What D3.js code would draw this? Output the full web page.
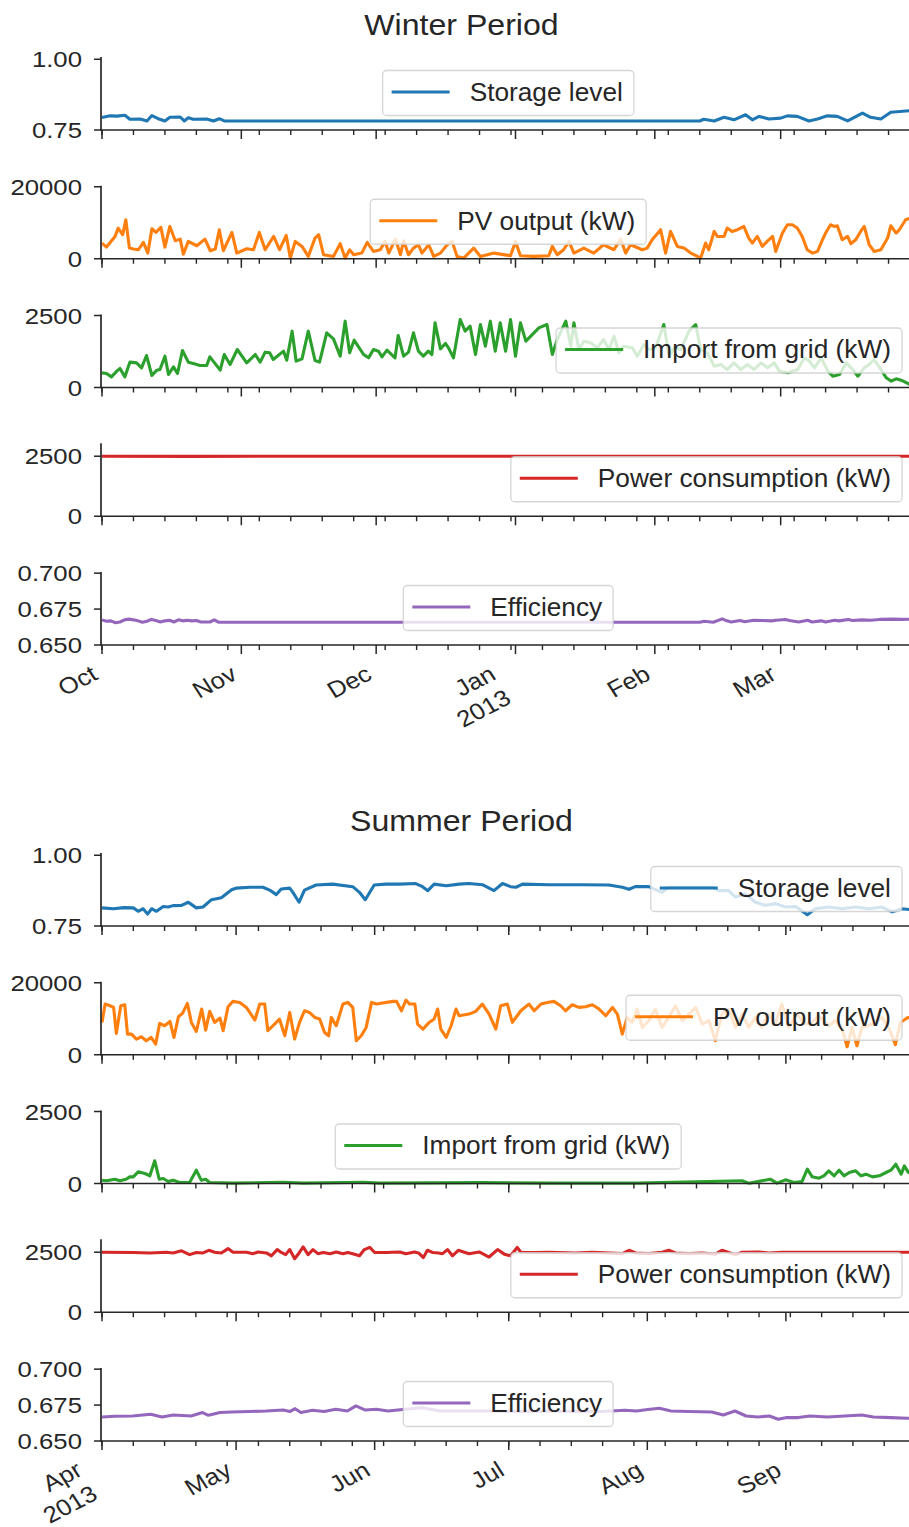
<!DOCTYPE html>
<html>
<head>
<meta charset="utf-8">
<script src="https://cdn.jsdelivr.net/npm/d3@7"></script>
<style>
  body { margin: 0; background: #fff; }
  svg { display: block; }
  text { font-family: "Liberation Sans", Arial, sans-serif; fill: #262626; }
</style>
</head>
<body>
<div id="chart"></div>
<script>
// ---------- data (day offset from period start, value) ----------
const seriesNames = ["Storage level", "PV output (kW)", "Import from grid (kW)", "Power consumption (kW)", "Efficiency"];
const seriesColors = ["#1f77b4", "#ff7f0e", "#2ca02c", "#d62728", "#9467bd"];
const yTickValues = [[0.75, 1.0], [0, 20000], [0, 2500], [0, 2500], [0.65, 0.675, 0.7]];
const yTickFormats = [".2f", "d", "d", "d", ".3f"];
const yLimits = [[0.75, 1.008], [0, 20280], [0, 2535], [0, 3040], [0.65, 0.7008]];
const winterTickLabels = ["Oct", "Nov", "Dec", "Jan\n2013", "Feb", "Mar"];
const summerTickLabels = ["Apr\n2013", "May", "Jun", "Jul", "Aug", "Sep"];

const winterStorage = [[0,0.794],[1.8,0.800],[3.3,0.799],[5.1,0.802],[6.2,0.788],[8.5,0.789],[10,0.782],[11.1,0.801],[12.5,0.790],[14,0.782],[15.1,0.795],[17.4,0.796],[18.3,0.782],[19.2,0.793],[20.3,0.788],[23.3,0.789],[24.8,0.782],[26.1,0.790],[27.2,0.782],[60,0.782],[100,0.782],[133,0.782],[133.9,0.788],[136.2,0.782],[138.4,0.795],[140.6,0.786],[143.2,0.804],[144.7,0.786],[146.2,0.798],[148.4,0.789],[151,0.792],[152.5,0.800],[154.7,0.798],[157.3,0.782],[159.2,0.789],[161.4,0.800],[163.6,0.798],[165.9,0.782],[169.2,0.810],[171,0.795],[173.3,0.789],[175.5,0.813],[179.7,0.818],[181,0.818]];

const winterPV = [[0,4350],[1,3240],[2.9,6200],[3.6,8520],[4.6,6670],[5.3,10830],[6.1,2960],[7,2690],[8.1,2500],[9.2,4540],[10.2,1570],[11.1,8330],[12,7310],[13.1,8700],[14,3240],[15.1,8980],[16.3,5000],[17.4,5460],[18.1,1300],[19.2,4820],[21.1,3610],[22.9,5460],[24.1,2220],[25.2,2690],[26.1,8060],[27,2220],[28.9,7310],[30,1570],[32.2,2780],[33.7,2500],[35,7310],[36.3,2500],[38.2,6200],[39.5,2500],[41,6480],[41.9,190],[43,4820],[44.5,3430],[45.9,650],[47.4,5740],[48.2,6670],[49.3,1110],[51.5,650],[53,4170],[54.1,190],[55.1,2500],[56,1110],[57.8,1570],[59,4540],[60.4,2040],[61.9,2500],[63,4820],[63.8,1570],[65.3,5460],[66.4,1110],[67.1,5000],[68.2,1110],[69.3,2960],[70.4,3890],[71.2,1570],[72.7,3890],[73.8,650],[75.3,1570],[76.8,3890],[77.9,4820],[79,650],[80.5,190],[82.7,2960],[84.2,650],[87.2,1570],[90.9,830],[92,4820],[93.1,830],[96.1,650],[99.4,830],[100.2,3430],[101.3,1110],[102.7,2500],[103.9,4820],[105,1570],[107.2,2960],[109.4,1570],[111.6,3890],[113.9,2500],[115.4,5460],[116.5,1570],[117.6,3890],[120.2,2500],[121.3,2960],[122.4,5280],[124.3,8060],[125.4,1570],[126.5,7590],[128,3430],[129.5,2960],[131,1570],[132.5,650],[133.2,190],[134.3,4350],[135,2500],[136.2,7590],[136.9,6200],[138.4,6200],[139.1,8520],[140.2,7590],[141.4,8060],[142.8,8980],[143.9,5740],[144.7,4350],[145.8,6200],[146.9,3430],[148,4820],[149.2,6200],[149.9,2040],[151.4,7130],[152.5,9450],[153.6,9450],[154.7,8520],[155.8,6200],[156.9,2500],[158.1,1570],[159.2,2040],[160.3,5280],[161,7130],[162.1,9450],[162.9,8980],[163.6,9170],[164.7,5280],[165.9,6200],[166.6,4170],[167.7,5280],[168.8,7590],[169.6,8980],[170.7,3890],[171.8,2040],[173.3,2500],[174.8,5740],[175.5,9170],[176.7,7130],[177.4,8060],[178.8,10830],[180,11300],[181,11500]];

const winterImport = [[0,509],[1,486],[2.1,370],[3.3,567],[4,660],[5.1,370],[6.2,880],[7.7,856],[8.8,683],[9.9,1111],[11.1,417],[12.2,602],[12.9,625],[14,1088],[14.8,451],[15.9,718],[16.8,486],[17.9,1285],[19.2,880],[20.3,833],[21.8,764],[23.3,764],[24,1065],[26.3,602],[27.2,1146],[28.5,799],[30.1,1319],[32.2,856],[34.1,1146],[35.2,880],[36.3,1227],[37.3,1204],[38.1,972],[40.4,1262],[41.1,949],[42.3,1956],[43.2,914],[44.5,995],[45.9,1956],[47.4,937],[48.4,880],[50,1898],[51.5,1690],[53,1088],[54.1,2303],[55.1,1204],[56.1,1643],[58.2,1146],[59.3,1030],[60.4,1319],[61.5,1262],[62.3,1065],[63.4,1296],[65.2,1030],[65.9,1806],[67.1,1088],[68.2,1227],[69.3,1898],[70.4,1262],[71.5,1088],[72.6,1262],[73.4,1146],[74.1,2245],[75.3,1343],[76.4,1528],[77.1,1377],[78.2,1030],[79.7,2361],[80.8,1956],[81.9,2130],[83.1,1146],[84.2,2187],[85.3,1435],[86.4,2303],[87.5,1262],[88.6,2245],[89.8,1262],[90.9,2361],[92,1088],[93.1,2245],[94.3,1609],[95.4,1782],[97.2,2072],[99,2187],[100.2,1146],[101.3,1667],[103.2,2303],[104.3,1435],[105,2245],[106.1,1319],[107.2,1609],[108.7,1551],[110.2,1377],[111.6,1667],[112.8,1319],[113.9,1782],[115,1204],[116.1,1435],[118,1377],[119.1,1088],[120.6,1493],[121.7,1319],[123.2,1377],[125,2187],[126.2,1088],[127.3,1377],[128.8,1319],[130.6,1956],[132.1,2187],[133.2,1319],[134.7,1204],[136.2,741],[137.7,799],[139.1,625],[140.6,856],[142.1,625],[143.6,799],[145.1,625],[146.6,856],[148.1,683],[149.6,856],[150.7,567],[152.6,509],[154.8,625],[156.3,1030],[157.4,914],[158.5,683],[160,1030],[161.5,567],[162.6,394],[164.1,451],[165.6,856],[166.7,683],[168.2,394],[169.6,683],[170.7,799],[171.8,972],[173.3,625],[174.5,336],[175.6,220],[176.7,301],[177.8,255],[179.8,104],[181,90]];

const winterPower = [[0,2500],[20,2495],[45,2500],[70,2500],[95,2500],[120,2500],[150,2500],[181,2500]];

const winterEfficiency = [[0,0.6675],[1,0.6665],[2,0.6668],[3,0.6655],[4,0.666],[5,0.6675],[6,0.668],[7,0.6675],[8,0.6668],[9,0.6658],[10,0.6665],[11,0.6678],[12,0.667],[13,0.666],[14,0.6668],[15,0.6672],[16,0.666],[17,0.6675],[18,0.6668],[19,0.6672],[20,0.6668],[21,0.667],[22,0.666],[24,0.666],[25,0.6675],[26,0.6658],[60,0.6658],[100,0.6658],[133,0.6658],[134,0.6665],[136,0.6658],[138,0.6682],[139,0.6668],[140,0.666],[142,0.667],[143,0.6662],[145,0.6672],[147,0.667],[149,0.6668],[150,0.6672],[152,0.6678],[153,0.667],[155,0.666],[157,0.6672],[158,0.666],[160,0.6668],[161,0.666],[163,0.6672],[164,0.6668],[166,0.6678],[167,0.667],[169,0.6675],[171,0.6672],[173,0.6678],[176,0.668],[178,0.6678],[181,0.668]];

const summerStorage = [[0,0.814],[2.6,0.811],[4.9,0.815],[7,0.814],[8.1,0.802],[9.2,0.811],[10.2,0.792],[11.1,0.811],[12.2,0.802],[13.7,0.819],[14.8,0.817],[15.9,0.822],[17.8,0.823],[19.3,0.834],[21.1,0.814],[22.6,0.817],[24.5,0.843],[26.7,0.850],[29,0.878],[30.1,0.884],[33.1,0.887],[36,0.887],[37.5,0.877],[39,0.861],[40.1,0.881],[42,0.884],[42.7,0.869],[44.1,0.834],[45.3,0.877],[47.9,0.895],[51.6,0.898],[56.1,0.889],[57.6,0.869],[58.9,0.843],[60.9,0.895],[63.5,0.898],[66.5,0.898],[70.2,0.900],[71.7,0.889],[72.9,0.875],[74.3,0.898],[77,0.892],[79.9,0.898],[82.1,0.900],[85.1,0.896],[87.7,0.875],[89.6,0.900],[91.4,0.889],[92.6,0.887],[94.1,0.898],[100,0.896],[107.4,0.896],[113.4,0.895],[116.4,0.887],[117.9,0.880],[119.3,0.889],[122.3,0.889],[125.3,0.869],[126.8,0.887],[129.8,0.887],[133.5,0.887],[136.5,0.887],[138,0.875],[140.2,0.875],[141.7,0.852],[143.9,0.863],[146.2,0.834],[148.4,0.823],[150.7,0.829],[152.9,0.817],[155.2,0.819],[157.8,0.790],[159.6,0.811],[162.6,0.817],[165.6,0.811],[168.6,0.817],[171.5,0.811],[174.5,0.817],[176.8,0.800],[179,0.811],[182,0.806]];

const summerPV = [[0,8980],[0.7,14075],[1.8,13610],[2.6,13150],[3.2,5930],[4.2,13610],[5.1,13890],[5.7,5740],[6.6,5740],[7.7,4350],[8.8,5000],[9.9,3890],[11,4820],[12,2960],[12.9,8700],[14,8060],[15.2,9260],[16.1,4820],[17.1,10560],[18,11480],[19.1,14260],[20,8980],[21.1,6480],[22.3,12690],[23.2,6850],[24.1,12040],[25.2,8980],[26.4,10190],[27.1,6670],[28.2,13330],[29.3,14820],[30.8,14540],[32.3,13150],[34.2,9630],[35.3,14080],[36.4,14080],[37.1,6670],[38.6,8520],[39.7,9910],[40.9,5280],[42,11760],[43.1,4350],[44.2,8980],[45.3,12220],[46.4,11760],[47.6,10370],[48.7,9910],[49.8,6200],[50.7,5280],[51.3,10370],[52.4,8060],[53.9,14080],[55,14540],[56.1,13150],[56.9,3890],[58,5280],[59.1,7590],[60.3,14540],[61.4,14080],[65.1,14820],[65.9,14820],[67,12220],[68,15190],[68.8,14080],[70,14080],[70.6,8520],[71.8,7130],[73.2,8980],[74.3,9910],[75.1,12690],[75.8,7130],[77,4820],[78.1,8060],[79.2,12690],[79.9,10830],[82.1,11300],[83.6,12040],[85.1,14080],[86.6,11300],[88.1,7130],[89.2,13610],[90.7,14080],[91.8,8980],[93.7,12220],[95.5,14080],[96.7,12220],[98.2,14080],[99.7,14540],[101.1,14820],[102.6,13610],[103.7,12220],[105.2,13890],[106.7,13150],[108.2,13330],[109.7,13890],[111.2,12690],[112.7,10830],[114.2,13150],[115.3,11300],[116.4,5740],[117.5,10370],[118.6,8980],[119.7,12690],[120.9,7590],[122.3,9450],[123.8,12690],[125.3,7590],[126.8,10370],[128.3,13610],[129.8,9450],[131.3,11300],[132.8,13150],[134.3,8520],[135.8,9450],[137.2,3890],[138.7,11300],[140.2,12690],[141.7,7590],[143.2,11300],[144.7,7590],[146.2,10370],[147.6,7590],[149.1,11300],[150.6,8520],[152.1,14080],[153.6,7590],[155.5,11300],[157.3,8520],[158.8,8980],[160.3,10830],[162.6,8060],[164,9450],[165.5,7590],[166.7,2220],[167.8,7590],[168.9,2500],[170,7590],[172.3,8520],[174.5,10370],[176,7590],[177.5,2780],[178.6,8980],[180.3,10370],[182,10000]];

const summerImport = [[0,116],[1,93],[2.9,150],[4,93],[5.4,150],[6.2,231],[7,231],[8.1,405],[9.6,347],[10.7,266],[11.8,787],[12.8,150],[13.7,174],[14.8,69],[15.9,116],[17.4,35],[19.6,35],[21.1,463],[22.2,116],[23.2,150],[24.1,35],[29.3,12],[40.5,45],[45,12],[58.5,45],[62,12],[85,30],[100,12],[120,12],[143.2,93],[144.7,12],[149.5,150],[151,12],[152.9,127],[154.8,35],[156.6,69],[157.8,498],[158.9,231],[160.4,185],[161.5,266],[162.6,440],[163.8,266],[164.9,463],[166,266],[167.2,382],[168.6,440],[169.8,266],[170.9,324],[172.4,231],[173.9,266],[175.4,382],[176.5,463],[177.6,671],[178.8,324],[179.5,613],[180.4,382],[182,400]];

const summerPower = [[0,2500],[7,2490],[10.7,2470],[14.4,2500],[15.9,2470],[17.8,2560],[19.6,2400],[21.1,2490],[22.6,2470],[23.9,2580],[25.2,2500],[26.7,2470],[28.2,2650],[29.3,2500],[32.3,2500],[33.8,2440],[34.9,2510],[36.8,2470],[37.9,2350],[39.2,2610],[40.1,2490],[41.1,2400],[42,2610],[43.1,2230],[44.1,2470],[45,2720],[46.1,2400],[47.2,2610],[48.3,2440],[49.5,2490],[51,2440],[52.4,2510],[53.9,2440],[55,2490],[56.1,2440],[57.6,2350],[58.7,2610],[59.9,2700],[61,2490],[63.6,2490],[66.6,2510],[68,2440],[69.9,2510],[70.8,2470],[71.9,2280],[72.8,2580],[74,2490],[75.3,2470],[76.2,2440],[77.3,2610],[78.4,2350],[79.7,2580],[82.1,2440],[84.4,2510],[86.6,2300],[88.5,2610],[90,2420],[91.4,2350],[92.9,2700],[93.7,2500],[97,2490],[100,2500],[105.9,2470],[109.7,2500],[116.4,2440],[117.9,2580],[119.4,2470],[122.3,2440],[125.3,2500],[126.8,2580],[128.3,2470],[131.3,2440],[134.3,2470],[137.2,2420],[138.7,2580],[140.2,2490],[141.7,2400],[143.2,2500],[146.9,2510],[149.2,2470],[152.1,2500],[182,2500]];

const summerEfficiency = [[0,0.6667],[2.9,0.6672],[6.8,0.6674],[10.9,0.6686],[13.4,0.6667],[16,0.6681],[19.9,0.6674],[22.5,0.6698],[23.8,0.6679],[26.4,0.6698],[29,0.6702],[32.9,0.6705],[36.7,0.6709],[40.6,0.6716],[42,0.6705],[43.2,0.6725],[44.5,0.6698],[47.1,0.6714],[49.7,0.6705],[52.3,0.6721],[54.9,0.6709],[56.8,0.6744],[58.8,0.6716],[61.4,0.6721],[64,0.6709],[67.8,0.6721],[71.7,0.6732],[75.6,0.6709],[80.8,0.6709],[87.2,0.6709],[93.7,0.6705],[100.2,0.6709],[106.6,0.6705],[111.8,0.6705],[117,0.6714],[119.6,0.6709],[122.1,0.6719],[124.7,0.6728],[127.3,0.6709],[131.2,0.6705],[136.4,0.6702],[139,0.6681],[141.6,0.6709],[144.1,0.6674],[146.7,0.6667],[149.3,0.6674],[151.3,0.6651],[153.2,0.6663],[155.8,0.6663],[158.4,0.6674],[162.3,0.6667],[166.1,0.6674],[170,0.6681],[172.6,0.6667],[176.5,0.6663],[180.1,0.6658],[182,0.6658]];

// ---------- layout ----------
const width = 909, height = 1527;
const plotLeft = 101, xStart = 102, xEnd = 915.5;
const panelH = 73, panelStep = 128.75;
const tickFont = 23, tickSX = 1.12;
const legendFont = 25, legendSX = 1.05;
const lineW = 3.1;

const periods = [
  { title: "Winter Period", start: new Date(2012, 9, 1), end: new Date(2013, 2, 31), top: 57,
    labels: winterTickLabels, series: [winterStorage, winterPV, winterImport, winterPower, winterEfficiency],
    legendLoc: ["center", "center", "right", "right", "center"] },
  { title: "Summer Period", start: new Date(2013, 3, 1), end: new Date(2013, 8, 30), top: 853,
    labels: summerTickLabels, series: [summerStorage, summerPV, summerImport, summerPower, summerEfficiency],
    legendLoc: ["right", "right", "center", "right", "center"] }
];

const svg = d3.select("#chart").append("svg")
  .attr("width", width)
  .attr("height", height);

periods.forEach(period => {
  const x = d3.scaleTime().domain([period.start, period.end]).range([xStart, xEnd]);
  const dayToDate = d => new Date(period.start.getTime() + d * 864e5);
  const stop = d3.timeDay.offset(period.end, 1);
  const majors = d3.timeMonth.range(period.start, stop);
  const minors = d3.timeMonday.range(period.start, stop);

  // title
  svg.append("text")
    .attr("transform", `translate(461.5,${period.top - 22}) scale(1.07,1)`)
    .attr("text-anchor", "middle")
    .attr("font-size", 30)
    .text(period.title);

  period.series.forEach((data, i) => {
    const top = period.top + i * panelStep;
    const bottom = top + panelH;
    const y = d3.scaleLinear().domain(yLimits[i]).range([bottom, top]);
    const g = svg.append("g");

    // line
    const line = d3.line()
      .x(d => x(dayToDate(d[0])))
      .y(d => y(d[1]));
    g.append("path")
      .datum(data)
      .attr("d", line)
      .attr("fill", "none")
      .attr("stroke", seriesColors[i])
      .attr("stroke-width", lineW)
      .attr("stroke-linejoin", "round");

    // spines
    g.append("line").attr("x1", plotLeft).attr("x2", plotLeft).attr("y1", top).attr("y2", bottom)
      .attr("stroke", "#262626").attr("stroke-width", 1.7);
    g.append("line").attr("x1", plotLeft - 0.8).attr("x2", width + 10).attr("y1", bottom).attr("y2", bottom)
      .attr("stroke", "#262626").attr("stroke-width", 1.7);

    // y ticks
    const fmt = d3.format(yTickFormats[i]);
    yTickValues[i].forEach(v => {
      g.append("line").attr("x1", plotLeft - 7).attr("x2", plotLeft).attr("y1", y(v)).attr("y2", y(v))
        .attr("stroke", "#262626").attr("stroke-width", 1.5);
      g.append("text")
        .attr("transform", `translate(${plotLeft - 19},${y(v)}) scale(${tickSX},1)`)
        .attr("text-anchor", "end")
        .attr("dy", "0.35em")
        .attr("font-size", tickFont)
        .text(fmt(v));
    });

    // x ticks (minor weekly, major monthly)
    minors.forEach(dt => {
      g.append("line").attr("x1", x(dt)).attr("x2", x(dt)).attr("y1", bottom).attr("y2", bottom + 5)
        .attr("stroke", "#262626").attr("stroke-width", 1.4);
    });
    majors.forEach(dt => {
      g.append("line").attr("x1", x(dt)).attr("x2", x(dt)).attr("y1", bottom).attr("y2", bottom + 9)
        .attr("stroke", "#262626").attr("stroke-width", 1.5);
    });

    // x tick labels only on the last panel
    if (i === period.series.length - 1) {
      const ls = tickFont * 1.2, asc = tickFont * 0.905, desc = tickFont * 0.212;
      majors.forEach((dt, k) => {
        const lines = period.labels[k].split("\n");
        const ax = x(dt) - tickSX * (0.5 * desc + (lines.length - 1) * 0.5 * ls);
        const ay = bottom + 15.5 + 0.866 * asc;
        const t = g.append("text")
          .attr("transform", `translate(${ax},${ay}) scale(${tickSX},1) rotate(-30)`)
          .attr("text-anchor", "end")
          .attr("font-size", tickFont);
        lines.forEach((s, j) => {
          t.append("tspan").attr("x", 0).attr("dy", j === 0 ? 0 : ls).text(s);
        });
      });
    }

    // legend
    const lg = g.append("g");
    const lgTop = top + 13.5, lgMid = lgTop + 21.5;
    const txt = lg.append("text")
      .attr("font-size", legendFont)
      .text(seriesNames[i]);
    const tw = txt.node().getComputedTextLength() * legendSX;
    const boxW = 9 + 58 + 20 + tw + 11;
    const boxX = period.legendLoc[i] === "right" ? xEnd - 13.5 - boxW : (plotLeft + xEnd) / 2 - boxW / 2;
    txt.attr("transform", `translate(${boxX + 87},${lgMid + legendFont * 0.355}) scale(${legendSX},1)`);
    lg.insert("rect", ":first-child")
      .attr("x", boxX).attr("y", lgTop)
      .attr("width", boxW).attr("height", 45)
      .attr("rx", 4)
      .attr("fill", "#fff").attr("fill-opacity", 0.8)
      .attr("stroke", "#cccccc").attr("stroke-opacity", 0.8).attr("stroke-width", 1.3);
    lg.insert("line", "text")
      .attr("x1", boxX + 9).attr("x2", boxX + 67)
      .attr("y1", lgMid).attr("y2", lgMid)
      .attr("stroke", seriesColors[i]).attr("stroke-width", lineW);
  });
});
</script>
</body>
</html>
